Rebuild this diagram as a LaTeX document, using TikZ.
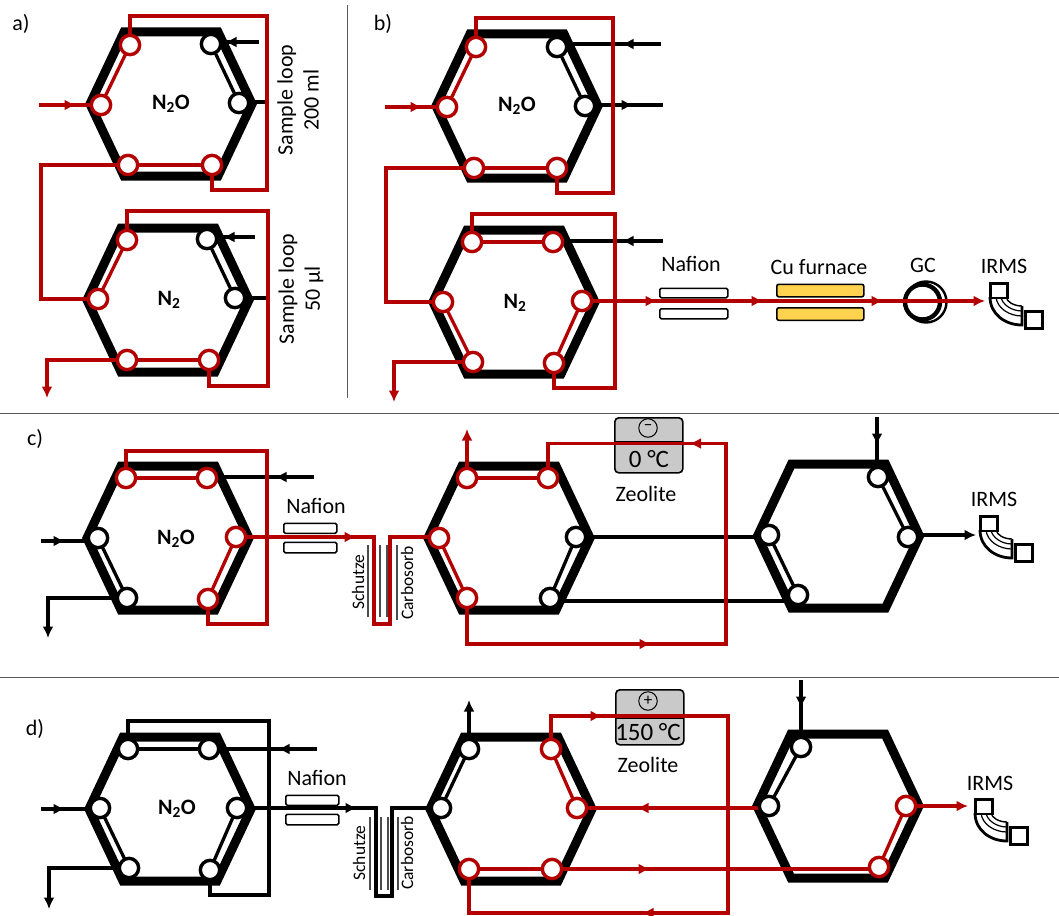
\documentclass[tikz,border=0pt]{standalone}
\usepackage{fontspec}
\setmainfont{Carlito}
\usetikzlibrary{arrows.meta,decorations.markings}
\definecolor{dred}{HTML}{B30000}
\definecolor{zgray}{HTML}{C9C9C9}
\definecolor{cuy}{HTML}{FFD34F}
\pgfdeclarelayer{hexes}
\pgfdeclarelayer{wires}
\pgfsetlayers{hexes,wires,main}
\tikzset{
  x=1pt,y=-1pt,
  >={Latex[length=11.5pt,width=11pt]},
  hexline/.style={draw=black,line width=9pt,line join=miter},
  rw/.style={draw=dred,line width=3.3pt,line join=miter},
  kw/.style={draw=black,line width=3.3pt,line join=miter},
  marrow/.style={postaction={decorate,decoration={markings,mark=at position #1pt with {\arrow{>}}}}},
  rport/.style={circle,draw=dred,fill=white,line width=3.4pt,minimum size=19.3pt,inner sep=0pt},
  kport/.style={circle,draw=black,fill=white,line width=3.4pt,minimum size=19.3pt,inner sep=0pt},
  lbl/.style={font=\fontsize{22}{26}\selectfont,inner sep=0pt,align=center},
  panel/.style={font=\fontsize{22}{24}\selectfont,inner sep=0pt},
  gas/.style={font=\fontsize{22}{24}\selectfont\bfseries,inner sep=0pt},
  trap/.style={font=\fontsize{17.5}{20}\selectfont,inner sep=0pt,rotate=90},
  sep/.style={draw=black!65,line width=1pt},
  thinline/.style={draw=black!70,line width=1.3pt},
  nafbox/.style={draw=black,fill=white,line width=1.6pt,rounded corners=1.5pt,minimum width=68pt,inner sep=0pt},
  cubox/.style={draw=black,fill=cuy,line width=1.6pt,rounded corners=2pt,minimum width=87pt,minimum height=12.5pt,inner sep=0pt},
  zeo/.style={draw=black,fill=zgray,line width=1.6pt,rounded corners=4pt,minimum width=68pt,minimum height=55pt,inner sep=0pt},
  sign/.style={circle,draw=black,line width=1pt,minimum size=18.5pt,inner sep=0pt,font=\fontsize{17}{17}\selectfont},
  msbox/.style={draw=black,fill=white,line width=2.8pt,inner sep=0pt},
}
\newcommand{\hexv}[2]{%
  \begin{pgfonlayer}{hexes}
    \draw[hexline] (#1-47,#2-72) -- (#1+47,#2-72) -- (#1+81,#2) -- (#1+47,#2+72) -- (#1-47,#2+72) -- (#1-81,#2) -- cycle;
  \end{pgfonlayer}}
\newcommand{\irms}[3]{%
  \begin{scope}[shift={(#2,#3)}]
    \draw[line width=2.8pt] (1,15) .. controls (1,32) and (16,43) .. (33,43) -- (33,24);
    \draw[line width=1.4pt] (17,15) .. controls (18,20) and (25,24) .. (33,24);
    \draw[line width=1.2pt] (12,15) .. controls (13,22) and (22,29) .. (33,29);
    \draw[line width=1.2pt] (7,15) .. controls (8,26) and (20,34) .. (33,34);
    \draw[line width=1.4pt] (1,15) -- (17,15);
  \end{scope}
  \node[msbox,minimum width=17pt,minimum height=14.5pt,anchor=north west] (#1a) at (#2,#3) {};
  \node[msbox,minimum width=17pt,minimum height=17pt,anchor=north west] (#1b) at (#2+35,#3+28) {};}
\begin{document}
\begin{tikzpicture}
\useasboundingbox (0,0) rectangle (1059,915);
% separators
\coordinate (sepT) at (347,5); \coordinate (sepB) at (347,398);
\coordinate (h1a) at (0,413); \coordinate (h1b) at (1059,413);
\coordinate (h2a) at (0,677); \coordinate (h2b) at (1059,677);
\draw[sep] (sepT) -- (sepB);
\draw[sep] (h1a) -- (h1b);
\draw[sep] (h2a) -- (h2b);
% panel labels
\node[panel] (pa) at (21,24) {a)};
\node[panel] (pb) at (383,24) {b)};
\node[panel] (pc) at (35,439) {c)};
\node[panel] (pd) at (35,729) {d)};
% hexagons
\hexv{171}{104}\hexv{168}{300}\hexv{517}{106}\hexv{514}{302}
\hexv{168}{538}\hexv{509}{538}\hexv{838.5}{536}
\hexv{170}{809}\hexv{511}{809}\hexv{838}{806}
% ---- ports
\node[rport] (aNTL) at (130,45) {};
\node[kport] (aNTR) at (211,44) {};
\node[kport] (aNR) at (239,103) {};
\node[rport] (aNBR) at (212,165) {};
\node[rport] (aNBL) at (128,165) {};
\node[rport] (aNL) at (101,105) {};
\node[rport] (aMTL) at (127,240) {};
\node[kport] (aMTR) at (207,239) {};
\node[kport] (aMR) at (235,298) {};
\node[rport] (aMBR) at (209,360) {};
\node[rport] (aMBL) at (127,360) {};
\node[rport] (aML) at (98,299) {};
\node[rport] (bNTL) at (476,47) {};
\node[kport] (bNTR) at (557,47) {};
\node[kport] (bNR) at (585,106) {};
\node[rport] (bNBR) at (557,168) {};
\node[rport] (bNBL) at (474,168) {};
\node[rport] (bNL) at (447,107) {};
\node[rport] (bMTL) at (472,242) {};
\node[rport] (bMTR) at (553,242) {};
\node[rport] (bMR) at (582,301) {};
\node[rport] (bMBR) at (554,363) {};
\node[rport] (bMBL) at (473,362) {};
\node[rport] (bML) at (443,302) {};
\node[rport] (cLTL) at (126,478) {};
\node[rport] (cLTR) at (207,478) {};
\node[rport] (cLR) at (236,537) {};
\node[rport] (cLBR) at (208,599) {};
\node[kport] (cLBL) at (127,598) {};
\node[kport] (cLL) at (98,538) {};
\node[rport] (cMTL) at (467,478) {};
\node[rport] (cMTR) at (548,478) {};
\node[kport] (cMR) at (576,537) {};
\node[kport] (cMBR) at (550,598) {};
\node[rport] (cMBL) at (467,598) {};
\node[rport] (cML) at (439,538) {};
\node[kport] (cRTL) at (878,477) {};
\node[kport] (cRR) at (908,537) {};
\node[kport] (cRL) at (769,535) {};
\node[kport] (cRBL) at (798,595) {};
\node[kport] (dLTL) at (128,749) {};
\node[kport] (dLTR) at (209,749) {};
\node[kport] (dLR) at (237,808) {};
\node[kport] (dLBR) at (210,870) {};
\node[kport] (dLBL) at (129,868) {};
\node[kport] (dLL) at (100,808) {};
\node[kport] (dMTL) at (469,749) {};
\node[rport] (dMTR) at (551,749) {};
\node[rport] (dMR) at (577,808) {};
\node[rport] (dMBR) at (552,869) {};
\node[rport] (dMBL) at (469,869) {};
\node[kport] (dML) at (441,808) {};
\node[kport] (dRTL) at (801,747) {};
\node[kport] (dRL) at (769,806) {};
\node[rport] (dRR) at (906,806) {};
\node[rport] (dRBR) at (879,867) {};
% ---- free ends
\coordinate (aNin) at (39,105);
\coordinate (aNgas) at (259,42);
\coordinate (aNstub) at (266,102);
\coordinate (aMgas) at (255,237);
\coordinate (aMstub) at (267,298);
\coordinate (aOut) at (47,398);
\coordinate (bNin) at (385,107);
\coordinate (bNgas) at (661,44);
\coordinate (bNout) at (663,105);
\coordinate (bMgas) at (663,241);
\coordinate (bOut) at (394,402);
\coordinate (bEnd) at (985,301);
\coordinate (cLin) at (41,541);
\coordinate (cLgas) at (314,477);
\coordinate (cLout) at (48,638);
\coordinate (cMout) at (467,429);
\coordinate (cRin) at (877,417);
\coordinate (cEnd) at (976,535);
\coordinate (dLin) at (41,809);
\coordinate (dLgas) at (317,749);
\coordinate (dLout) at (49,909);
\coordinate (dMout) at (469,700);
\coordinate (dRin) at (801,680);
\coordinate (dEnd) at (968,806);
% ---- devices
\begin{pgfonlayer}{hexes}
  \node[nafbox,minimum height=9.5pt,anchor=north west] (bNaf1) at (659,287.5) {};
  \node[nafbox,minimum height=10pt,anchor=north west] (bNaf2) at (659,308) {};
  \node[cubox,anchor=north west] (cu1) at (776,283.5) {};
  \node[cubox,anchor=north west] (cu2) at (776,307) {};
  \node[circle,draw=black,fill=white,line width=2.4pt,minimum size=41pt,inner sep=0pt] (gcOuter) at (926,302) {};
  \node[circle,draw=black,line width=4.4pt,minimum size=35pt,inner sep=0pt] (gcInner) at (922.5,302) {};
  \node[nafbox,minimum height=10pt,minimum width=53pt,anchor=north west] (cNaf1) at (283,522.5) {};
  \node[nafbox,minimum height=10.5pt,minimum width=53pt,anchor=north west] (cNaf2) at (283,541.5) {};
  \node[nafbox,minimum height=10pt,minimum width=53pt,anchor=north west] (dNaf1) at (285,794.5) {};
  \node[nafbox,minimum height=10.5pt,minimum width=53pt,anchor=north west] (dNaf2) at (285,813.5) {};
  \node[zeo,anchor=north west] (cZeo) at (614,417) {};
  \node[zeo,anchor=north west] (dZeo) at (615,689) {};
  \draw[line width=2.2pt] (614,442) -- (682,442);
  \draw[line width=2.2pt] (615,718) -- (683,718);
  \draw[thinline] (368,545) -- (368,617); \draw[thinline] (380,545) -- (380,617);
  \draw[thinline] (387,545) -- (387,617); \draw[thinline] (397,545) -- (397,620);
  \draw[thinline] (370,817) -- (370,890); \draw[thinline] (381,817) -- (381,890);
  \draw[thinline] (388,817) -- (388,890); \draw[thinline] (398,817) -- (398,890);
\end{pgfonlayer}
\irms{bI}{989}{282}
\irms{cI}{979}{515}
\irms{dI}{974}{798}
% ---- wires
\begin{pgfonlayer}{wires}
  % a
  \draw[kw] (aNTR.center) -- (aNR.center);
  \draw[kw,marrow=34] (aNgas) -- (211,42) -- (aNTR.center);
  \draw[kw] (239,102) -- (aNstub);
  \draw[kw] (aMTR.center) -- (aMR.center);
  \draw[kw,marrow=32] (aMgas) -- (207,237) -- (aMTR.center);
  \draw[kw] (aMR.center) -- (aMstub);
  \draw[rw,marrow=37] (aNin) -- (aNL.center);
  \draw[rw] (aNL.center) -- (aNTL.center);
  \draw[rw] (aNBL.center) -- (aNBR.center);
  \draw[rw] (aNTL.center) -- (130,16) -- (267,16) -- (267,190) -- (212,190) -- (aNBR.center);
  \draw[rw] (aNBL.center) -- (41,165) -- (41,299) -- (aML.center);
  \draw[rw] (aML.center) -- (aMTL.center);
  \draw[rw] (aMBL.center) -- (aMBR.center);
  \draw[rw] (aMTL.center) -- (127,211) -- (268,211) -- (268,386) -- (209,386) -- (aMBR.center);
  \draw[rw,->] (aMBL.center) -| (aOut);
  % b
  \draw[kw] (bNTR.center) -- (bNR.center);
  \draw[kw,marrow=39] (bNgas) -- (557,44) -- (bNTR.center);
  \draw[kw,marrow=48] (585,105) -- (bNout);
  \draw[kw,marrow=41] (bMgas) -- (553,241) -- (bMTR.center);
  \draw[rw,marrow=37] (bNin) -- (bNL.center);
  \draw[rw] (bNL.center) -- (bNTL.center);
  \draw[rw] (bNBL.center) -- (bNBR.center);
  \draw[rw] (bNTL.center) -- (476,18) -- (613,18) -- (613,193) -- (557,193) -- (bNBR.center);
  \draw[rw] (bNBL.center) -- (386,168) -- (386,302) -- (bML.center);
  \draw[rw] (bMTL.center) -- (bMTR.center);
  \draw[rw] (bML.center) -- (bMBL.center);
  \draw[rw] (bMR.center) -- (bMBR.center);
  \draw[rw] (bMTL.center) -- (472,214) -- (615,214) -- (615,388) -- (554,388) -- (bMBR.center);
  \draw[rw,->] (bMBL.center) -| (bOut);
  \draw[rw,->,marrow=75,marrow=181,marrow=301] (bMR.center) -- (bEnd);
  % c
  \draw[kw,marrow=24] (cLin) -- (98,541) -- (cLL.center);
  \draw[kw] (cLL.center) -- (cLBL.center);
  \draw[kw,->] (cLBL.center) -| (cLout);
  \draw[kw,marrow=39] (cLgas) -- (207,477) -- (cLTR.center);
  \draw[kw] (cMR.center) -- (cMBR.center);
  \draw[kw] (cMR.center) -- (769,537) -- (cRL.center);
  \draw[kw] (cMBR.center) -- (550,601) -- (798,601) -- (cRBL.center);
  \draw[kw] (cRL.center) -- (cRBL.center);
  \draw[kw] (cRTL.center) -- (cRR.center);
  \draw[kw,marrow=28] (cRin) -- (877,477) -- (cRTL.center);
  \draw[kw,->] (908,535) -- (cEnd);
  \draw[rw] (cLTL.center) -- (cLTR.center);
  \draw[rw] (cLR.center) -- (cLBR.center);
  \draw[rw] (cLTL.center) -- (126,451) -- (267,451) -- (267,624) -- (208,624) -- (cLBR.center);
  \draw[rw,marrow=120] (cLR.center) -- (374,537) -- (374,624) -- (390,624) -- (390,537) -- (439,537) -- (cML.center);
  \draw[rw] (cML.center) -- (cMBL.center);
  \draw[rw] (cMTL.center) -- (cMTR.center);
  \draw[rw,->] (cMTL.center) -- (cMout);
  \draw[rw,marrow=230,marrow=542] (cMBL.center) -- (467,644) -- (726,644) -- (726,443.5) -- (548,443.5) -- (cMTR.center);
  % d
  \draw[kw,marrow=24] (dLin) -- (100,809) -- (dLL.center);
  \draw[kw] (dLL.center) -- (dLBL.center);
  \draw[kw,->] (dLBL.center) -| (dLout);
  \draw[kw] (dLTL.center) -- (dLTR.center);
  \draw[kw] (dLR.center) -- (dLBR.center);
  \draw[kw,marrow=39] (dLgas) -- (dLTR.center);
  \draw[kw] (dLTL.center) -- (128,721) -- (269,721) -- (269,895) -- (210,895) -- (dLBR.center);
  \draw[kw,marrow=120] (dLR.center) -- (376,808) -- (376,896) -- (392,896) -- (392,808) -- (dML.center);
  \draw[kw] (dML.center) -- (dMTL.center);
  \draw[kw,->] (dMTL.center) -- (dMout);
  \draw[kw] (dRTL.center) -- (dRL.center);
  \draw[kw,marrow=28] (dRin) -- (dRTL.center);
  \draw[rw] (dMTR.center) -- (dMR.center);
  \draw[rw] (dMBL.center) -- (dMBR.center);
  \draw[rw,marrow=132] (769,808) -- (dMR.center);
  \draw[rw,marrow=98] (dMBR.center) -- (879,869) -- (dRBR.center);
  \draw[rw] (dRR.center) -- (dRBR.center);
  \draw[rw,->] (dRR.center) -- (dEnd);
  \draw[rw,marrow=84,marrow=493] (dMTR.center) -- (551,716) -- (728,716) -- (728,913) -- (469,913) -- (dMBL.center);
\end{pgfonlayer}
% ---- labels
\node[gas] (tA1) at (171,104) {N\textsubscript{2}O};
\node[gas] (tA2) at (169,300) {N\textsubscript{2}};
\node[gas] (tB1) at (517,106) {N\textsubscript{2}O};
\node[gas] (tB2) at (515,303) {N\textsubscript{2}};
\node[gas] (tC1) at (176,539) {N\textsubscript{2}O};
\node[gas] (tD1) at (177,809) {N\textsubscript{2}O};
\node[lbl,rotate=90] (sl1) at (298,100) {Sample loop\\200 ml};
\node[lbl,rotate=90] (sl2) at (301,289) {Sample loop\\50 µl};
\node[lbl] (tNb) at (691,264) {Nafion};
\node[lbl] (tCu) at (819,267) {Cu furnace};
\node[lbl] (tGC) at (923,265) {GC};
\node[lbl] (tIb) at (1004,266) {IRMS};
\node[lbl] (tNc) at (316,506) {Nafion};
\node[lbl] (tNd) at (317,778) {Nafion};
\node[lbl] (tIc) at (994,499) {IRMS};
\node[lbl] (tId) at (990,783) {IRMS};
\node[trap] (tSc) at (358,582) {Schutze};
\node[trap] (tKc) at (407,583) {Carbosorb};
\node[trap] (tSd) at (359,853) {Schutze};
\node[trap] (tKd) at (407,853) {Carbosorb};
\node[lbl] (tZc) at (646,494) {Zeolite};
\node[lbl] (tZd) at (648,765) {Zeolite};
\node[sign] (sMinus) at (648,428) {−};
\node[sign] (sPlus) at (648,701) {+};
\node[lbl,font=\fontsize{25}{26}\selectfont] (t0) at (649,459) {0 °C};
\node[lbl,font=\fontsize{25}{26}\selectfont] (t150) at (648,732) {150 °C};
\end{tikzpicture}
\end{document}
